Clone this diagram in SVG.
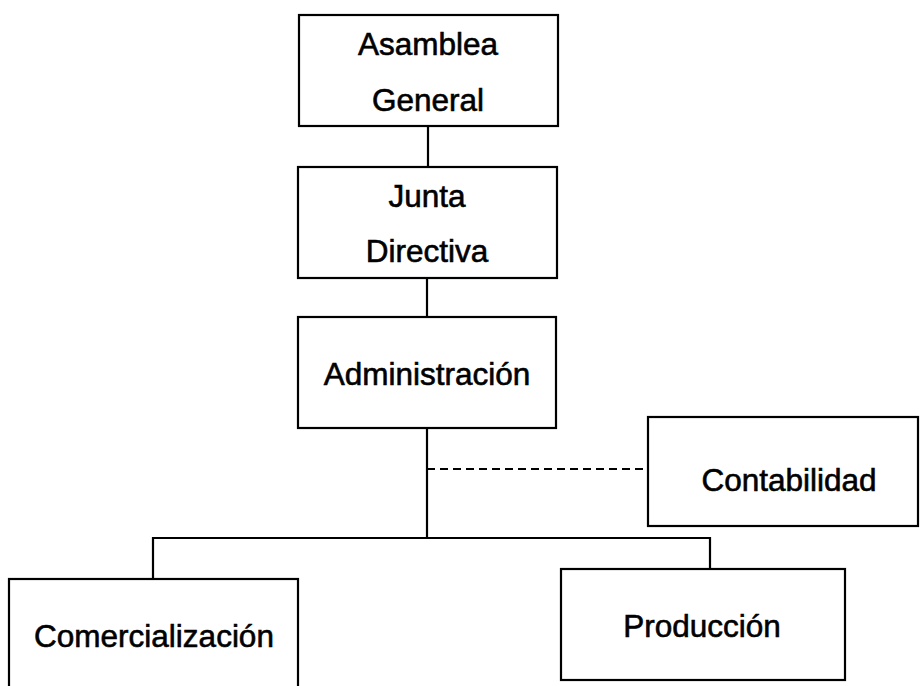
<svg xmlns="http://www.w3.org/2000/svg" width="920" height="686" viewBox="0 0 920 686">
<style>
.box{fill:#fff;stroke:#000;stroke-width:2.2}
.t{font-family:"Liberation Sans",Arial,sans-serif;font-size:31.5px;fill:#000;stroke:#000;stroke-width:0.6}
.ln{fill:none;stroke:#000;stroke-width:2.2}
.dash{fill:none;stroke:#000;stroke-width:2;stroke-dasharray:8,5}
</style>
<rect width="920" height="686" fill="#fff"/>
<g id="connectors">
<line class="ln" x1="428" y1="126" x2="428" y2="167"/>
<line class="ln" x1="427" y1="278" x2="427" y2="317"/>
<line class="ln" x1="427" y1="428" x2="427" y2="538"/>
<line class="dash" x1="427" y1="469" x2="645" y2="469"/>
<polyline class="ln" points="153,579 153,538 710,538 710,569"/>
</g>
<g id="asamblea">
<rect class="box" x="299" y="15" width="259" height="111"/>
<text class="t" x="428" y="55" text-anchor="middle">Asamblea</text>
<text class="t" x="428" y="111" text-anchor="middle">General</text>
</g>
<g id="junta">
<rect class="box" x="298" y="167" width="259" height="111"/>
<text class="t" x="427" y="207" text-anchor="middle">Junta</text>
<text class="t" x="427" y="262" text-anchor="middle">Directiva</text>
</g>
<g id="administracion">
<rect class="box" x="298" y="317" width="258" height="111"/>
<text class="t" x="427" y="385" text-anchor="middle">Administración</text>
</g>
<g id="contabilidad">
<rect class="box" x="648" y="417" width="270" height="109"/>
<text class="t" x="789" y="491" text-anchor="middle">Contabilidad</text>
</g>
<g id="comercializacion">
<rect class="box" x="9" y="579" width="289" height="120"/>
<text class="t" x="154" y="647" text-anchor="middle">Comercialización</text>
</g>
<g id="produccion">
<rect class="box" x="561" y="569" width="284" height="111"/>
<text class="t" x="702" y="637" text-anchor="middle">Producción</text>
</g>
</svg>
